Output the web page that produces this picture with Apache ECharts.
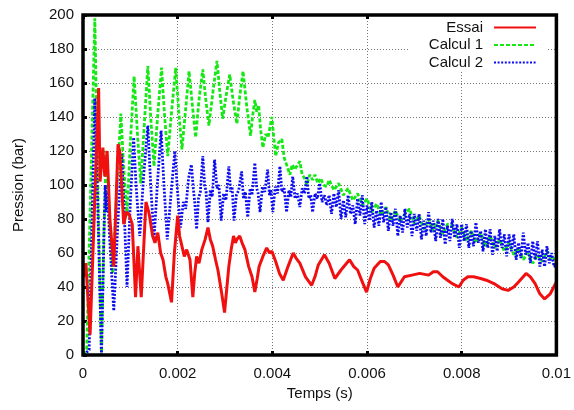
<!DOCTYPE html>
<html><head><meta charset="utf-8">
<script src="https://cdn.jsdelivr.net/npm/echarts@6/dist/echarts.min.js"></script>
<style>html,body{margin:0;padding:0;background:#fff}#c{width:574px;height:410px}</style>
</head><body><div id="c"></div>
<script>
// ---- data ----
const seriesNames = ['Essai', 'Calcul 1', 'Calcul 2'];
const xTicks = [0, 0.002, 0.004, 0.006, 0.008, 0.01];
const yTicks = [0, 20, 40, 60, 80, 100, 120, 140, 160, 180, 200];

const essaiT = [0.00002,0.00006,0.00015,0.00033,0.00036,0.00042,0.00046,0.00051,0.00057,0.00065,0.00074,0.00078,0.00086,0.00092,0.00097,0.00104,0.00111,0.00116,0.00123,0.00133,0.00139,0.00141,0.00147,0.00152,0.00158,0.00164,0.00169,0.00175,0.00179,0.00187,0.00193,0.002,0.00204,0.00209,0.00214,0.00219,0.00226,0.00232,0.00236,0.0024,0.00245,0.00251,0.00258,0.00264,0.00269,0.00274,0.0028,0.00285,0.00292,0.00299,0.00304,0.00308,0.00313,0.00318,0.00322,0.00325,0.00331,0.00336,0.00342,0.0035,0.00357,0.00363,0.00368,0.00372,0.0038,0.00388,0.00394,0.00399,0.00407,0.00415,0.00423,0.00433,0.00444,0.0045,0.00458,0.0047,0.00483,0.0049,0.00497,0.0051,0.0052,0.00532,0.00545,0.00563,0.00572,0.0058,0.0059,0.00599,0.00607,0.00615,0.00628,0.00637,0.00645,0.00655,0.00665,0.00672,0.00679,0.00695,0.00711,0.0073,0.0074,0.00749,0.0076,0.0077,0.0078,0.00794,0.00803,0.00813,0.00825,0.0084,0.00852,0.00868,0.00885,0.00898,0.0091,0.0092,0.00936,0.00945,0.00955,0.00965,0.00975,0.00987,0.01];
const essaiP = [46,54,12,157,102,122,105,120,79,52,124,119,77,84,83,77,34,64,34,90,84,81,70,66,72,60,56,46,42,31,60,82,70,64,58,62,56,34,48,58,54,62,68,75,68,64,56,50,38,25,40,52,62,70,66,68,70,66,62,52,46,37,45,52,58,63,60,61,55,48,44,52,60,57,54,46,41,46,53,59,54,45,50,56,52,50,43,37,45,51,55,55,53,47,40,43,46,47,48,47,49,49,46,44,42,40,44,46,46,45,44,42,39,38,40,43,48,46,42,36,33,36,43];

const calc1T = [0.00002,0.00008,0.00025,0.00032,0.00039,0.00044,0.00049,0.00053,0.00063,0.00072,0.0008,0.00086,0.00093,0.001,0.00108,0.00115,0.00122,0.0013,0.00137,0.00143,0.0015,0.00158,0.00166,0.00172,0.00179,0.00188,0.00196,0.00202,0.00209,0.00217,0.00224,0.00231,0.00238,0.00245,0.00253,0.00259,0.00266,0.00275,0.00283,0.00289,0.00295,0.00302,0.0031,0.00317,0.00325,0.00331,0.00338,0.00346,0.00354,0.00358,0.00363,0.00367,0.00371,0.00375,0.0038,0.00386,0.00391,0.00399,0.00403,0.00407,0.00413,0.0042,0.00425,0.0043,0.00437,0.00442,0.00447,0.00458,0.00463,0.00468,0.00473,0.00479,0.00485,0.0049,0.00496,0.00502,0.00508,0.00515,
0.0052,0.0053,0.0054,0.0055,0.0056,0.0057,0.0058,0.0059,0.006,0.0061,0.0062,0.0063,0.0064,0.0065,0.0066,0.0067,0.0068,0.0069,0.007,0.0071,0.0072,0.0073,0.0074,0.0075,0.0076,0.0077,0.0078,0.0079,0.008,0.0081,0.0082,0.0083,0.0084,0.0085,0.0086,0.0087,0.0088,0.0089,0.009,0.0091,0.0092,0.0093,0.0094,0.0095,0.0096,0.0097,0.0098,0.0099,0.01];
const calc1P = [0,4,198,90,0,70,120,95,48,100,142,110,82,125,164,130,101,138,170,140,111,142,169,142,117,146,169,144,121,145,167,147,128,150,168,151,135,156,173,155,139,152,165,150,136,152,167,146,129,140,150,143,147,133,122,130,128,140,128,117,125,127,116,112,106,112,109,114,106,104,100,106,103,106,101,104,100,99,
103,97,101,94,98,91,95,88,92,84,89,82,87,79,85,78,83,86,77,82,74,80,73,79,71,77,76,69,75,67,73,66,72,64,70,63,68,61,66,59,63,56,60,54,59,55,61,56,57];

const calc2T = [0.00002,0.00013,0.00025,0.00031,0.00039,0.00045,0.00047,0.00049,0.00052,0.00056,0.00065,0.00074,0.00082,0.00087,0.00093,0.001,0.00107,0.00112,0.0012,0.00128,0.00137,0.00143,0.0015,0.00157,0.00165,0.00171,0.00178,0.00186,0.00194,0.002,0.00206,0.00212,0.00217,0.00223,0.00229,0.00233,0.00236,0.0024,0.00244,0.00248,0.00253,0.00257,0.0026,0.00264,0.00269,0.00273,0.00278,0.00283,0.00287,0.00292,0.00297,0.00302,0.00308,0.00312,0.00315,0.00319,0.00324,0.00329,0.00335,0.00339,0.00343,0.00348,0.00353,0.00357,0.00363,0.00367,0.0037,0.00374,0.00379,0.00384,0.0039,0.00394,0.00397,0.00401,0.00406,0.00411,0.00416,0.0042,0.00425,0.0043,0.00435,0.00439,0.00443,0.00448,0.00453,0.00458,0.00463,0.00468,0.00473,0.00477,0.00481,0.00485,0.0049,0.00495,0.005,0.00505,0.0051,0.00515,
0.0052,0.00525,0.0053,0.00535,0.0054,0.00545,0.0055,0.00555,0.0056,0.00565,0.0057,0.00575,0.0058,0.00585,0.0059,0.00595,0.006,0.00605,0.0061,0.00615,0.0062,0.00625,0.0063,0.00635,0.0064,0.00645,0.0065,0.00655,0.0066,0.00665,0.0067,0.00675,0.0068,0.00685,0.0069,0.00695,0.007,0.00705,0.0071,0.00715,0.0072,0.00725,0.0073,0.00735,0.0074,0.00745,0.0075,0.00755,0.0076,0.00765,0.0077,0.00775,0.0078,0.00785,0.0079,0.00795,0.008,0.00805,0.0081,0.00815,0.0082,0.00825,0.0083,0.00835,0.0084,0.00845,0.0085,0.00855,0.0086,0.00865,0.0087,0.00875,0.0088,0.00885,0.0089,0.00895,0.009,0.00905,0.0091,0.00915,0.0092,0.00925,0.0093,0.00935,0.0094,0.00945,0.0095,0.00955,0.0096,0.00965,0.0097,0.00975,0.0098,0.00985,0.0099,0.00995,0.01];
const calc2P = [0,3,151,90,0,80,100,84,96,70,26,80,118,85,40,90,128,100,70,105,135,100,68,100,132,100,68,95,120,95,75,90,86,104,112,98,90,74,92,96,117,100,96,78,97,93,115,98,100,79,95,91,111,96,99,79,94,97,108,92,96,81,98,94,113,98,95,84,99,96,109,94,97,84,99,95,111,96,98,84,97,93,105,92,95,87,98,95,105,92,94,84,95,92,101,90,94,88,
94,83,95,87,97,80,91,81,94,83,88,77,92,82,94,77,88,79,90,75,85,76,90,78,87,73,84,76,86,70,82,72,86,75,83,70,83,73,83,68,79,70,84,72,79,67,80,69,80,65,76,67,80,69,77,63,77,67,77,63,73,64,78,66,73,61,74,63,74,59,70,61,74,63,71,58,71,61,71,56,66,57,72,59,66,54,67,56,67,52,62,52,64,54,60,52,53];

// ---- chart ----
const zip = (t, p) => t.map((v, i) => [v, p[i]]);
const font = "'Liberation Sans', Arial, sans-serif";
const chart = echarts.init(document.getElementById('c'), null, {renderer: 'canvas'});
const fmtX = v => (v === 0 ? '0' : String(+(+v).toFixed(3)));

chart.setOption({
  animation: false,
  backgroundColor: '#fff',
  textStyle: {fontFamily: font},
  grid: {left: 83, right: 17, top: 15, bottom: 55, show: true, borderColor: '#000', borderWidth: 3.5, backgroundColor: 'transparent', z: 10},
  legend: {
    data: seriesNames, orient: 'vertical', align: 'right', right: 27, top: 16,
    backgroundColor: '#fff', padding: [4, 10, 2, 20], itemGap: 2.5, itemWidth: 42, itemHeight: 14,
    textStyle: {fontFamily: font, fontSize: 15, color: '#111', padding: [0, 6, 0, 0]},
    itemStyle: {opacity: 0}, z: 5
  },
  xAxis: [{
    type: 'value', min: 0, max: 0.01, interval: 0.002,
    name: 'Temps (s)', nameLocation: 'middle', nameGap: 31,
    nameTextStyle: {fontFamily: font, fontSize: 15, color: '#111'},
    axisLine: {show: false},
    axisTick: {show: true, inside: true, length: 4, lineStyle: {color: '#000', width: 3}},
    axisLabel: {fontFamily: font, fontSize: 15, color: '#111', margin: 11, formatter: fmtX, customValues: xTicks},
    splitLine: {show: true, lineStyle: {color: '#777', type: [1, 2], width: 1}}
  }, {
    type: 'value', position: 'top', min: 0, max: 0.01, interval: 0.002,
    axisLine: {show: false}, axisLabel: {show: false},
    axisTick: {show: true, inside: true, length: 4, lineStyle: {color: '#000', width: 3}},
    splitLine: {show: false}
  }],
  yAxis: [{
    type: 'value', min: 0, max: 200, interval: 20,
    name: 'Pression (bar)', nameLocation: 'middle', nameGap: 57, nameRotate: 90,
    nameTextStyle: {fontFamily: font, fontSize: 15, color: '#111'},
    axisLine: {show: false},
    axisTick: {show: true, inside: true, length: 4, lineStyle: {color: '#000', width: 3}},
    axisLabel: {fontFamily: font, fontSize: 15, color: '#111', margin: 9, customValues: yTicks},
    splitLine: {show: true, lineStyle: {color: '#777', type: [1, 2], width: 1}}
  }],
  series: [
    {name: seriesNames[1], type: 'line', data: zip(calc1T, calc1P), symbol: 'none', z: 2,
     lineStyle: {color: '#16e816', width: 2.8, type: [4, 2]}, itemStyle: {color: '#16e816'}},
    {name: seriesNames[2], type: 'line', data: zip(calc2T, calc2P), symbol: 'none', z: 3,
     lineStyle: {color: '#0b0bf0', width: 2.8, type: [2, 1.6]}, itemStyle: {color: '#0b0bf0'}},
    {name: seriesNames[0], type: 'line', data: zip(essaiT, essaiP), symbol: 'none', z: 4,
     lineStyle: {color: '#f01010', width: 3}, itemStyle: {color: '#f01010'}}
  ]
});
</script></body></html>
